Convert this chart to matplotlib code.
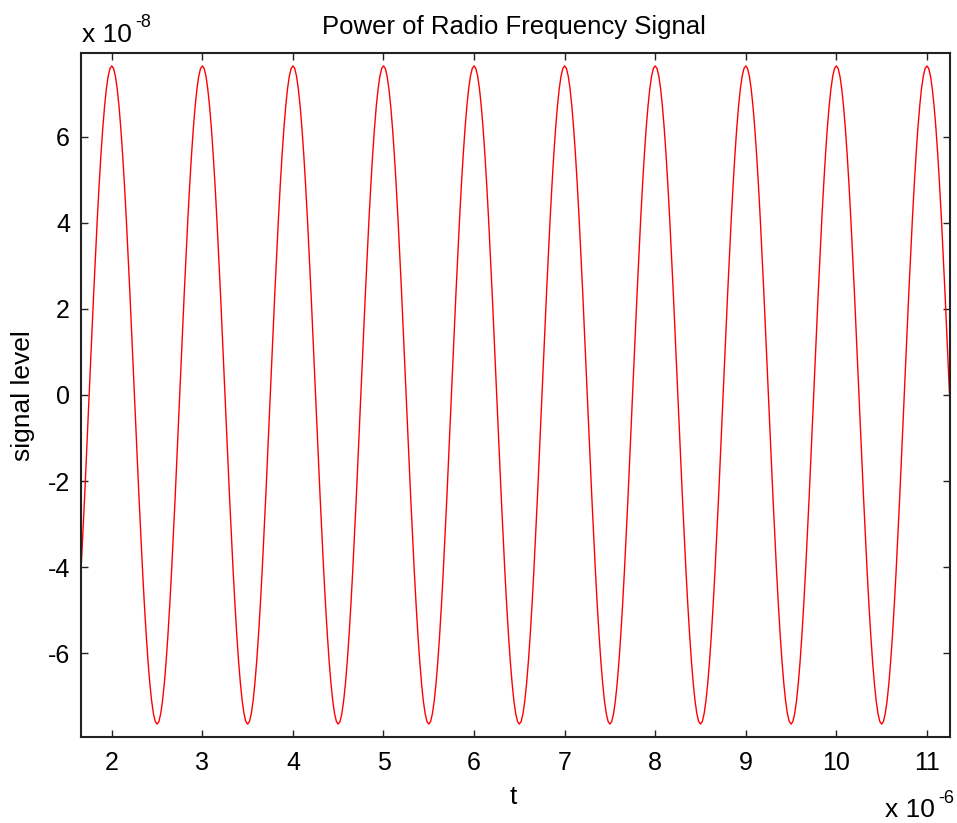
import numpy as np
import matplotlib.pyplot as plt
from matplotlib.ticker import FuncFormatter

plt.rcParams['font.family'] = ['Liberation Sans', 'DejaVu Sans']

# RF signal parameters
amplitude = 7.65e-8        # peak signal level
freq = 1.0e6               # 1 MHz carrier
t_peak = 2.0e-6            # time of a crest
t_start, t_stop = 1.66e-6, 11.255e-6
dt = 0.02e-6               # sample spacing

x_ticks = [2, 3, 4, 5, 6, 7, 8, 9, 10, 11]
y_ticks = [-6, -4, -2, 0, 2, 4, 6]

t = np.arange(t_start, t_stop + dt / 2, dt)
signal = amplitude * np.cos(2 * np.pi * freq * (t - t_peak))

W, H = 957, 823
fig = plt.figure(figsize=(W / 100, H / 100), dpi=100)
ax = fig.add_axes([81 / W, 1 - 737 / H, 869 / W, 684 / H])
ax.plot(t, signal, color='red', lw=1.0)

ax.set_xlim(t_start, t_stop)
ax.set_ylim(-7.95e-8, 7.95e-8)
ax.set_xticks([v * 1e-6 for v in x_ticks])
ax.set_yticks([v * 1e-8 for v in y_ticks])
ax.xaxis.set_major_formatter(FuncFormatter(lambda v, p: '%g' % round(v * 1e6, 6)))
ax.yaxis.set_major_formatter(FuncFormatter(lambda v, p: '%g' % round(v * 1e8, 6)))
ax.tick_params(direction='in', length=5, width=1, labelsize=18,
               top=True, right=True, color='#222222')
ax.tick_params(axis='x', pad=10)
ax.tick_params(axis='y', pad=8)
for s in ax.spines.values():
    s.set_linewidth(1.5)
    s.set_color('#222222')

fig.text(514 / W, 1 - 27 / H, 'Power of Radio Frequency Signal',
         fontsize=18.5, ha='center', va='center')
fig.text(513 / W, 1 - 797 / H, 't', fontsize=19, ha='center', va='center')
fig.text(23 / W, 1 - 396 / H, 'signal level', fontsize=19, rotation=90,
         ha='center', va='center')

# exponent labels, MATLAB style
fig.text(82 / W, 1 - 42 / H, 'x 10', fontsize=19, ha='left', va='baseline')
fig.text(135 / W, 1 - 27 / H, '-8', fontsize=13, ha='left', va='baseline')
fig.text(885 / W, 1 - 817 / H, 'x 10', fontsize=19, ha='left', va='baseline')
fig.text(938 / W, 1 - 803 / H, '-6', fontsize=13, ha='left', va='baseline')

fig.savefig('out.png', dpi=100)
